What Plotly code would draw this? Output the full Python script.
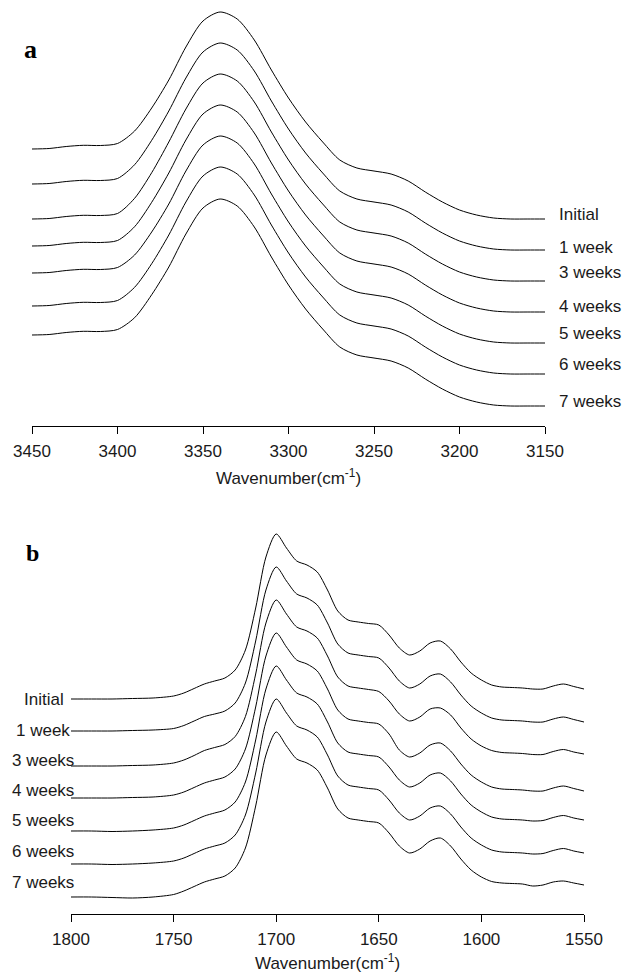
import plotly.graph_objects as go

# ---------------- Panel a (3450-3150 cm-1) ----------------
wn_a = [3450, 3440, 3430, 3420, 3410, 3400, 3390, 3380, 3370, 3360, 3350, 3340, 3330, 3320,
        3310, 3300, 3290, 3280, 3270, 3260, 3250, 3240, 3230, 3220, 3210, 3200, 3190, 3180,
        3170, 3160, 3150]

a_initial = [277, 277.5, 279.5, 280.7, 280.5, 282.5, 295, 318, 346, 379, 405, 414, 407, 386,
             356, 328, 304, 284, 266, 258, 255, 252, 245, 234, 224, 216, 211, 208, 207, 207, 207]
a_1week = [242, 242.5, 244.5, 245.7, 245.5, 247.5, 261.3, 285.7, 315, 348, 374, 383, 376, 355,
           325, 297, 273, 253, 235, 227, 224, 221, 214, 203, 193, 185, 180, 177, 176, 176, 176]
a_3weeks = [207, 207.5, 209.5, 210.7, 210.5, 212.5, 227.7, 253.3, 284, 317, 343, 352, 345, 324,
            294, 266, 242, 222, 204, 196, 193, 190, 183, 172, 162, 154, 149, 146, 145, 145, 145]
a_4weeks = [180, 180.5, 182.5, 183.7, 183.5, 185.5, 199.3, 223.7, 253, 286, 312, 321, 314, 293,
            263, 235, 211, 191, 173, 165, 162, 159, 152, 141, 131, 123, 118, 115, 114, 114, 114]
a_5weeks = [153, 153.5, 155.5, 156.7, 156.5, 158.5, 171, 194, 222, 255, 281, 290, 283, 262,
            232, 204, 180, 160, 142, 134, 131, 128, 121, 110, 100, 92, 87, 84, 83, 83, 83]
a_6weeks = [120, 120.5, 122.5, 123.7, 123.5, 125.5, 138.7, 162.3, 191, 224, 250, 259, 252, 231,
            201, 173, 149, 129, 111, 103, 100, 97, 90, 79, 69, 61, 56, 53, 52, 52, 52]
a_7weeks = [91, 91.5, 93.5, 94.7, 94.5, 96.5, 108.3, 131.3, 159, 192, 218, 227, 220, 199,
            169, 141, 117, 97, 79, 71, 68, 65, 58, 47, 37, 29, 24, 21, 20, 20, 20]

# ---------------- Panel b (1800-1550 cm-1) ----------------
wn_b = [1800, 1790, 1780, 1770, 1760, 1750, 1745, 1740, 1735, 1730, 1725, 1720, 1715, 1710,
        1705, 1700, 1695, 1690, 1685, 1680, 1675, 1670, 1665, 1660, 1655, 1650, 1645, 1640,
        1635, 1630, 1625, 1620, 1615, 1610, 1605, 1600, 1595, 1590, 1585, 1580, 1575, 1570,
        1565, 1560, 1555, 1550]

b_initial = [215, 215, 215, 215.5, 216, 218, 221, 225.5, 230, 233, 236, 244, 264, 306,
             357, 380, 366, 353, 349, 342, 324, 303, 294, 292, 290.5, 289, 279, 266,
             259, 263, 271, 273, 265, 252, 241, 234, 229, 227, 226.5, 226, 225, 225,
             228, 230, 227.5, 225]
b_1week = [183, 183, 183, 183.5, 184, 185.5, 188.5, 193, 197.5, 200, 203, 211, 231, 273,
           324, 347, 333, 320, 316, 309, 291, 270, 261, 259, 257.5, 256, 246, 233,
           226, 230, 238, 240, 232, 219, 208, 201, 196, 194, 193.5, 193, 192, 192,
           195, 197, 194.5, 192]
b_3weeks = [148, 148, 148, 148.5, 149, 151, 154, 158.5, 163.5, 166.5, 169.5, 177.5, 197.5, 240,
            291, 314, 300, 287, 283, 276, 258, 237, 228, 226, 224.5, 222.5, 213, 200,
            193, 197, 205, 206, 199, 186, 175, 168, 163.5, 161.5, 161, 160.5, 159.5, 159.5,
            162.5, 164.5, 162, 160]
b_4weeks = [116, 116, 116, 116.5, 117, 119, 122, 126.5, 131, 134, 137, 145, 165, 207,
            258, 281, 267, 254, 250, 243, 225, 204, 195, 193, 191.5, 190, 180, 164,
            157, 161, 169, 171, 163, 150, 139, 132, 127, 125, 124.5, 124, 123, 123,
            126, 128, 125.5, 123]
b_5weeks = [83, 83, 82.5, 83, 84, 86, 89, 93.5, 98, 101, 104, 112, 132, 174,
            225, 248, 234, 221, 217, 210, 192, 171, 162, 160, 158.5, 157, 147, 134,
            127, 131, 139, 141, 133, 120, 109, 102, 97, 95, 94.5, 94, 93, 93.5,
            96.5, 98.5, 96, 94]
b_6weeks = [50, 50, 49.5, 50, 51, 53, 56, 60.5, 65, 68, 71, 79, 99, 141,
            192, 215, 201, 188, 184, 177, 159, 138, 129, 127, 125.5, 124, 114, 101,
            94, 98, 106, 108, 100, 87, 76, 69, 64, 62, 61.5, 61, 60, 60.5,
            63.5, 65.5, 63, 61]
b_7weeks = [17, 17, 16.5, 16, 17, 19.5, 23, 27.5, 32, 35, 38, 46, 66, 108,
            159, 182, 168, 155, 151, 144, 126, 105, 96, 94, 92.5, 91, 81, 68,
            61, 65, 73, 76, 68, 55, 44, 37, 32.5, 31, 30.5, 30, 28, 29,
            32, 33, 31, 29]

series_names = ["Initial", "1 week", "3 weeks", "4 weeks", "5 weeks", "6 weeks", "7 weeks"]
series_a = [a_initial, a_1week, a_3weeks, a_4weeks, a_5weeks, a_6weeks, a_7weeks]
series_b = [b_initial, b_1week, b_3weeks, b_4weeks, b_5weeks, b_6weeks, b_7weeks]

ticks_a = [3450, 3400, 3350, 3300, 3250, 3200, 3150]
ticks_b = [1800, 1750, 1700, 1650, 1600, 1550]

W, H = 624, 973
FONT = "Liberation Sans, Arial, sans-serif"
TXT = "#1a1a1a"

def px(x):
    return x / W

def py(y):
    return 1 - y / H

fig = go.Figure()
line_style = dict(color="black", width=1, shape="spline", smoothing=0.8)
for name, vals in zip(series_names, series_a):
    fig.add_trace(go.Scatter(x=wn_a, y=vals, mode="lines", name=name, line=line_style,
                             xaxis="x", yaxis="y", hoverinfo="skip"))
for name, vals in zip(series_names, series_b):
    fig.add_trace(go.Scatter(x=wn_b, y=vals, mode="lines", name=name, line=line_style,
                             xaxis="x2", yaxis="y2", hoverinfo="skip"))

axis_common = dict(showline=True, linecolor="black", linewidth=1, ticks="outside", ticklen=7,
                   tickwidth=1, tickcolor="black", showgrid=False, zeroline=False,
                   automargin=False, ticklabelstandoff=3,
                   tickfont=dict(family=FONT, size=17, color=TXT))

fig.update_layout(
    template="none",
    width=W, height=H,
    margin=dict(l=0, r=0, t=0, b=0, pad=0),
    paper_bgcolor="white", plot_bgcolor="white",
    showlegend=False,
    xaxis=dict(domain=[px(32), px(545)], range=[3450, 3150], tickvals=ticks_a,
               anchor="y", **axis_common),
    yaxis=dict(domain=[py(426), py(0)], range=[0, 426], visible=False, anchor="x",
               automargin=False),
    xaxis2=dict(domain=[px(71), px(584)], range=[1800, 1550], tickvals=ticks_b,
                anchor="y2", **axis_common),
    yaxis2=dict(domain=[py(914), py(488)], range=[0, 426], visible=False, anchor="x2",
                automargin=False),
)

ann = []
label_y_a = [214, 247, 272, 306, 334, 364, 401]
for name, yy in zip(series_names, label_y_a):
    ann.append(dict(x=px(557), y=py(yy), xref="paper", yref="paper", text=name,
                    xanchor="left", yanchor="middle", showarrow=False,
                    font=dict(family=FONT, size=17, color=TXT)))
label_x_b = [22, 14, 10, 10, 10, 10, 10]
label_y_b = [699, 730, 760, 790, 820, 851, 882]
for name, xx, yy in zip(series_names, label_x_b, label_y_b):
    ann.append(dict(x=px(xx), y=py(yy), xref="paper", yref="paper", text=name,
                    xanchor="left", yanchor="middle", showarrow=False,
                    font=dict(family=FONT, size=17, color=TXT)))
ann.append(dict(x=px(288), y=py(477), xref="paper", yref="paper",
                text="Wavenumber(cm<sup>-1</sup>)", xanchor="center", yanchor="middle",
                showarrow=False, font=dict(family=FONT, size=17, color=TXT)))
ann.append(dict(x=px(327), y=py(962), xref="paper", yref="paper",
                text="Wavenumber(cm<sup>-1</sup>)", xanchor="center", yanchor="middle",
                showarrow=False, font=dict(family=FONT, size=17, color=TXT)))
ann.append(dict(x=px(31), y=py(50), xref="paper", yref="paper", text="<b>a</b>",
                xanchor="center", yanchor="middle", showarrow=False,
                font=dict(family="Liberation Serif, Times New Roman, serif", size=26, color="black")))
ann.append(dict(x=px(32), y=py(553), xref="paper", yref="paper", text="<b>b</b>",
                xanchor="center", yanchor="middle", showarrow=False,
                font=dict(family="Liberation Serif, Times New Roman, serif", size=24, color="black")))

fig.update_layout(annotations=ann)
fig.write_html(
    "out.html",
    config={"responsive": False, "displayModeBar": False, "staticPlot": True},
    post_script="document.body.style.margin='0';document.body.style.overflow='hidden';",
)
